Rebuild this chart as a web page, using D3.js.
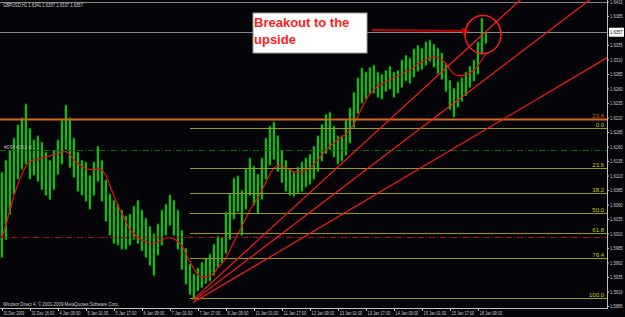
<!DOCTYPE html>
<html>
<head>
<meta charset="utf-8">
<script src="https://cdn.jsdelivr.net/npm/d3@7"></script>
<style>
body { margin: 0; background: #050408; }
text { font-family: "Liberation Sans", Arial, sans-serif; }
</style>
</head>
<body>
<svg id="chart" width="625" height="317"></svg>
<script>
// GBPUSD H1, one entry per ~2.3 hourly bars (7 entries per time label)
const timeLabels = ["31 Dec 2009", "31 Dec 16:00", "4 Jan 09:00", "5 Jan 01:00", "5 Jan 17:00", "6 Jan 09:00",
  "7 Jan 01:00", "7 Jan 17:00", "8 Jan 09:00", "11 Jan 01:00", "11 Jan 17:00", "12 Jan 09:00",
  "13 Jan 01:00", "13 Jan 17:00", "14 Jan 09:00", "15 Jan 01:00", "15 Jan 17:00", "18 Jan 09:00"];

const highs = [1.6116, 1.6137, 1.6154, 1.6175, 1.6198, 1.6210, 1.6234, 1.6192, 1.6172, 1.6179,
  1.6168, 1.6151, 1.6137, 1.6154, 1.6172, 1.6206, 1.6232, 1.6210, 1.6175, 1.6151,
  1.6137, 1.6134, 1.6111, 1.6134, 1.6161, 1.6137, 1.6103, 1.6079, 1.6068, 1.6061,
  1.6051, 1.6041, 1.6044, 1.6058, 1.6068, 1.6051, 1.6037, 1.6023, 1.6010, 1.6027,
  1.6051, 1.6061, 1.6077, 1.6068, 1.6051, 1.6016, 1.5985, 1.5958, 1.5941, 1.5951,
  1.5961, 1.5968, 1.5975, 1.5992, 1.6006, 1.6003, 1.6047, 1.6079, 1.6106, 1.6110,
  1.6085, 1.6123, 1.6141, 1.6127, 1.6113, 1.6141, 1.6175, 1.6196, 1.6203, 1.6179,
  1.6154, 1.6137, 1.6123, 1.6116, 1.6125, 1.6134, 1.6141, 1.6147, 1.6161, 1.6179,
  1.6199, 1.6216, 1.6220, 1.6196, 1.6179, 1.6179, 1.6206, 1.6227, 1.6254, 1.6279,
  1.6296, 1.6289, 1.6297, 1.6301, 1.6289, 1.6285, 1.6292, 1.6299, 1.6289, 1.6292,
  1.6310, 1.6318, 1.6313, 1.6329, 1.6335, 1.6330, 1.6341, 1.6344, 1.6337, 1.6330,
  1.6322, 1.6303, 1.6275, 1.6261, 1.6272, 1.6279, 1.6289, 1.6299, 1.6310, 1.6341,
  1.6382, 1.6357];

const lows = [1.5968, 1.5999, 1.6042, 1.6077, 1.6103, 1.6120, 1.6129, 1.6103, 1.6110, 1.6099,
  1.6085, 1.6075, 1.6068, 1.6085, 1.6111, 1.6129, 1.6154, 1.6123, 1.6106, 1.6082,
  1.6075, 1.6065, 1.6051, 1.6075, 1.6099, 1.6065, 1.6030, 1.6006, 1.5992, 1.5989,
  1.5982, 1.5982, 1.5989, 1.5999, 1.5992, 1.5979, 1.5968, 1.5954, 1.5937, 1.5972,
  1.5989, 1.6006, 1.6023, 1.6006, 1.5982, 1.5947, 1.5922, 1.5904, 1.5896, 1.5910,
  1.5916, 1.5923, 1.5927, 1.5937, 1.5951, 1.5958, 1.5975, 1.5999, 1.6034, 1.6047,
  1.6006, 1.6051, 1.6075, 1.6058, 1.6044, 1.6068, 1.6103, 1.6127, 1.6137, 1.6116,
  1.6097, 1.6082, 1.6075, 1.6073, 1.6079, 1.6082, 1.6089, 1.6094, 1.6103, 1.6116,
  1.6134, 1.6147, 1.6154, 1.6141, 1.6129, 1.6134, 1.6144, 1.6165, 1.6192, 1.6216,
  1.6234, 1.6241, 1.6249, 1.6251, 1.6244, 1.6241, 1.6254, 1.6258, 1.6244, 1.6251,
  1.6261, 1.6272, 1.6268, 1.6279, 1.6289, 1.6292, 1.6299, 1.6306, 1.6296, 1.6285,
  1.6275, 1.6254, 1.6223, 1.6210, 1.6227, 1.6237, 1.6247, 1.6261, 1.6272, 1.6284,
  1.6318, 1.6337];

const movingAvg = [1.6003, 1.6025, 1.6051, 1.6075, 1.6096, 1.6113, 1.6127, 1.6134, 1.6137, 1.6137,
  1.6141, 1.6142, 1.6144, 1.6146, 1.6147, 1.6151, 1.6151, 1.6146, 1.6137, 1.6130,
  1.6125, 1.6122, 1.6120, 1.6120, 1.6122, 1.6120, 1.6110, 1.6092, 1.6075, 1.6058,
  1.6044, 1.6030, 1.6016, 1.6010, 1.6003, 1.5999, 1.5996, 1.5992, 1.5992, 1.5996,
  1.5999, 1.6003, 1.6003, 1.6001, 1.5996, 1.5989, 1.5975, 1.5961, 1.5948, 1.5939,
  1.5935, 1.5935, 1.5937, 1.5942, 1.5951, 1.5958, 1.5968, 1.5982, 1.5996, 1.6010,
  1.6023, 1.6037, 1.6051, 1.6061, 1.6072, 1.6085, 1.6099, 1.6113, 1.6123, 1.6127,
  1.6127, 1.6123, 1.6120, 1.6116, 1.6116, 1.6116, 1.6120, 1.6123, 1.6129, 1.6137,
  1.6146, 1.6154, 1.6161, 1.6166, 1.6172, 1.6177, 1.6182, 1.6189, 1.6199, 1.6213,
  1.6227, 1.6241, 1.6251, 1.6258, 1.6265, 1.6268, 1.6272, 1.6275, 1.6279, 1.6282,
  1.6285, 1.6289, 1.6292, 1.6297, 1.6303, 1.6306, 1.6310, 1.6313, 1.6315, 1.6313,
  1.6310, 1.6303, 1.6292, 1.6285, 1.6282, 1.6282, 1.6284, 1.6287, 1.6292, 1.6299,
  1.6310, 1.6320];

const priceTicks = d3.range(0, 22).map(k => 1.5885 + k * 0.0025);
const fibLevels = [0, 23.6, 38.2, 50, 61.8, 76.4, 100];
const fibStart = 47, fibHigh = 1.6192, fibLow = 1.5899;
// trendlines: two anchors each [entry, price], drawn as rays
const trendLines = [
  [[47.75, 1.5896], [100, 1.6226]],
  [[48.25, 1.5896], [100, 1.6167]],
  [[47.75, 1.5891], [100, 1.6104]]
];
const hLines = [
  {price: 1.6208, color: "#d2691e", width: 2, dash: null, label: "23.6"},
  {price: 1.6154, color: "#0b6b0b", width: 1, dash: "6,2,1,2", tag: "#0974053 sl"},
  {price: 1.6004, color: "#a01010", width: 1, dash: "6,2,1,2"}
];
const header = "GBPUSD,H1  1.6341 1.6357 1.6337 1.6357";
const lastPrice = 1.6357, topLine = 1.6410;

const W = 625, H = 317, right = 607, bottom = 308;
const svg = d3.select("#chart");
svg.append("rect").attr("width", W).attr("height", H).attr("fill", "#050408");

const x = d3.scaleLinear().domain([0, 121]).range([2, 486]);
const y = d3.scaleLinear().domain([1.5885, 1.6410]).range([306, 1.5]);

svg.append("clipPath").attr("id", "plot").append("rect").attr("width", right).attr("height", bottom);
const plot = svg.append("g").attr("clip-path", "url(#plot)");

// bars
const bars = plot.append("g");
highs.forEach(function(h, i) {
  bars.append("rect").attr("x", x(i) - 1.4).attr("y", y(h)).attr("width", 2.5)
    .attr("height", Math.max(1, y(lows[i]) - y(h))).attr("fill", "#007c00");
  bars.append("line").attr("x1", x(i)).attr("x2", x(i)).attr("y1", y(h) + 1).attr("y2", y(lows[i]) - 1)
    .attr("stroke", "#2af52a").attr("stroke-width", 1);
});

// moving average
plot.append("path").datum(movingAvg)
  .attr("d", d3.line().x((d, i) => x(i)).y(d => y(d)))
  .attr("fill", "none").attr("stroke", "#e01010").attr("stroke-width", 1.3);

// top frame line and current price line
[topLine, lastPrice].forEach(function(p) {
  plot.append("line").attr("x1", 0).attr("x2", right).attr("y1", Math.round(y(p)) + 0.5).attr("y2", Math.round(y(p)) + 0.5)
    .attr("stroke", "#8a8a8a");
});

// horizontal lines
hLines.forEach(function(l) {
  const yy = Math.round(y(l.price)) + 0.5;
  plot.append("line").attr("x1", 0).attr("x2", right).attr("y1", yy).attr("y2", yy)
    .attr("stroke", l.color).attr("stroke-width", l.width).attr("stroke-dasharray", l.dash);
  if (l.label)
    svg.append("text").attr("x", right - 3).attr("y", yy - 2).attr("text-anchor", "end")
      .attr("font-size", 6).attr("fill", l.color).text(l.label);
  if (l.tag)
    svg.append("text").attr("x", 4).attr("y", yy - 2).attr("font-size", 5.5).attr("fill", "#bbbbbb")
      .attr("textLength", 28).attr("lengthAdjust", "spacingAndGlyphs").text(l.tag);
});

// fibonacci retracement
fibLevels.forEach(function(lv) {
  const yy = Math.round(y(fibHigh - (fibHigh - fibLow) * lv / 100)) + 0.5;
  plot.append("line").attr("x1", x(fibStart)).attr("x2", right).attr("y1", yy).attr("y2", yy)
    .attr("stroke", "#9a9a10");
  svg.append("text").attr("x", right - 3).attr("y", yy - 2).attr("text-anchor", "end")
    .attr("font-size", 6).attr("fill", "#c8c820").text(lv.toFixed(1));
});

// trendlines as rays
trendLines.forEach(function(t) {
  const [a, b] = t;
  const slope = (b[1] - a[1]) / (b[0] - a[0]);
  const end = x.invert(right + 50);
  plot.append("line").attr("x1", x(a[0])).attr("y1", y(a[1]))
    .attr("x2", x(end)).attr("y2", y(a[1] + slope * (end - a[0])))
    .attr("stroke", "#ff1a1a").attr("stroke-width", 1.2);
});

// annotation
const note = svg.append("g");
note.append("rect").attr("x", 253).attr("y", 13).attr("width", 114).attr("height", 40)
  .attr("fill", "#ffffff").attr("stroke", "#999999");
note.selectAll("text").data(["Breakout to the", "upside"]).enter().append("text")
  .attr("x", 254).attr("y", (d, i) => 27 + i * 17)
  .attr("font-family", "Liberation Serif, serif").attr("font-weight", "bold").attr("font-size", 13)
  .attr("fill", "#ff2020").text(d => d);
note.append("line").attr("x1", 372).attr("x2", 464).attr("y1", 30).attr("y2", 31)
  .attr("stroke", "#c00000").attr("stroke-width", 2);
note.append("path").attr("d", "M470,31 L462,27.5 L462,34.5 Z").attr("fill", "#c00000");
note.append("ellipse").attr("cx", x(120.25)).attr("cy", y(1.6353)).attr("rx", 18).attr("ry", 19)
  .attr("fill", "none").attr("stroke", "#ff1a1a").attr("stroke-width", 1.5);

// price axis (the tick under the current price box is covered, as in MT4)
const shownTicks = priceTicks.filter(p => Math.abs(y(p) - y(lastPrice)) > 6);
const yAxis = svg.append("g").attr("transform", `translate(${right},0)`)
  .call(d3.axisRight(y).tickValues(shownTicks).tickFormat(d3.format(".4f")).tickSize(2).tickPadding(1));
yAxis.select(".domain").remove();
yAxis.selectAll("line").attr("stroke", "#c0c0c0");
yAxis.selectAll("text").attr("fill", "#c8c8c8").attr("font-size", 4.8).attr("font-family", "Liberation Sans, Arial")
  .attr("textLength", 12.5).attr("lengthAdjust", "spacingAndGlyphs");
svg.append("line").attr("x1", right + 0.5).attr("x2", right + 0.5).attr("y1", 0).attr("y2", bottom)
  .attr("stroke", "#c0c0c0");

// current price box
svg.append("rect").attr("x", right + 2).attr("y", y(lastPrice) - 4.5).attr("width", 15).attr("height", 9).attr("fill", "#ffffff");
svg.append("text").attr("x", right + 3).attr("y", y(lastPrice) + 2).attr("font-size", 4.8).attr("fill", "#000")
  .attr("textLength", 12.5).attr("lengthAdjust", "spacingAndGlyphs").text(lastPrice.toFixed(4));

// time axis
const xAxis = svg.append("g").attr("transform", `translate(0,${bottom})`)
  .call(d3.axisBottom(x).tickValues(d3.range(0, 120, 7)).tickFormat((d, i) => timeLabels[i]).tickSize(3).tickPadding(1));
xAxis.select(".domain").remove();
xAxis.selectAll("line").attr("stroke", "#c0c0c0");
xAxis.selectAll("text").attr("text-anchor", "start").attr("dx", 1).attr("fill", "#c8c8c8")
  .attr("font-size", 4.7).attr("font-family", "Liberation Sans, Arial")
  .attr("textLength", d => timeLabels[d / 7].length * 1.9).attr("lengthAdjust", "spacingAndGlyphs");
svg.append("line").attr("x1", 0).attr("x2", right + 1).attr("y1", bottom + 0.5).attr("y2", bottom + 0.5)
  .attr("stroke", "#c0c0c0");

svg.append("text").attr("x", 3).attr("y", 7).attr("font-size", 5.5).attr("fill", "#d0d0d0")
  .attr("textLength", 80).attr("lengthAdjust", "spacingAndGlyphs").text(header);
svg.append("text").attr("x", 3).attr("y", 306).attr("font-size", 5.5).attr("fill", "#d0d0d0")
  .attr("textLength", 116).attr("lengthAdjust", "spacingAndGlyphs")
  .text("Windsor Direct 4, © 2001-2009 MetaQuotes Software Corp.");
</script>
</body>
</html>
